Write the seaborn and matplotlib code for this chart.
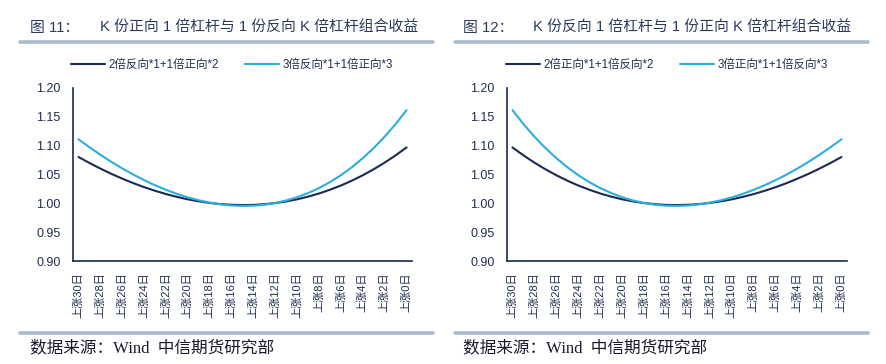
import matplotlib
matplotlib.use("Agg")
import matplotlib.pyplot as plt
import seaborn as sns
import pandas as pd
from matplotlib.lines import Line2D
from matplotlib.ticker import FixedLocator

# ---------------- data ----------------
categories = ["上涨%d日" % d for d in range(30, -1, -1)]
tick_labels = ["上涨%d日" % d for d in range(30, -1, -2)]

left_names = ["2倍反向*1+1倍正向*2", "3倍反向*1+1倍正向*3"]
left_s1 = [1.0804, 1.0700, 1.0603, 1.0512, 1.0429, 1.0351, 1.0281, 1.0218, 1.0161, 1.0112,
           1.0069, 1.0035, 1.0007, 0.9987, 0.9975, 0.9970, 0.9973, 0.9985, 1.0005, 1.0033,
           1.0070, 1.0116, 1.0171, 1.0236, 1.0309, 1.0393, 1.0487, 1.0591, 1.0706, 1.0832,
           1.0969]
left_s2 = [1.1111, 1.0973, 1.0843, 1.0720, 1.0606, 1.0500, 1.0403, 1.0314, 1.0235, 1.0164,
           1.0103, 1.0053, 1.0012, 0.9982, 0.9963, 0.9955, 0.9959, 0.9976, 1.0006, 1.0049,
           1.0106, 1.0178, 1.0265, 1.0368, 1.0488, 1.0626, 1.0783, 1.0959, 1.1156, 1.1374,
           1.1616]

right_names = ["2倍正向*1+1倍反向*2", "3倍正向*1+1倍反向*3"]
right_s1 = [1.0969, 1.0832, 1.0706, 1.0591, 1.0487, 1.0393, 1.0309, 1.0236, 1.0171, 1.0116,
            1.0070, 1.0033, 1.0005, 0.9985, 0.9973, 0.9970, 0.9975, 0.9987, 1.0007, 1.0035,
            1.0069, 1.0112, 1.0161, 1.0218, 1.0281, 1.0351, 1.0429, 1.0512, 1.0603, 1.0700,
            1.0804]
right_s2 = [1.1616, 1.1374, 1.1156, 1.0959, 1.0783, 1.0626, 1.0488, 1.0368, 1.0265, 1.0178,
            1.0106, 1.0049, 1.0006, 0.9976, 0.9959, 0.9955, 0.9963, 0.9982, 1.0012, 1.0053,
            1.0103, 1.0164, 1.0235, 1.0314, 1.0403, 1.0500, 1.0606, 1.0720, 1.0843, 1.0973,
            1.1111]

yticks = [0.90, 0.95, 1.00, 1.05, 1.10, 1.15, 1.20]

# ---------------- style ----------------
sns.set_style("white")
MIX = ["Liberation Sans", "Noto Sans CJK SC", "DejaVu Sans"]
plt.rcParams["font.family"] = MIX

DARK = "#1B2A52"
LIGHT = "#2AAEE0"
TXT = "#1F2E50"
TITLE_C = "#2A3B5C"
RULE = "#A9BBD0"

W, H = 886, 364
fig = plt.figure(figsize=(W / 100, H / 100), dpi=100)
fig.patch.set_facecolor("white")


def fx(px):
    return px / W


def fy(py):
    return 1 - py / H


def panel(x0, x1, names, s1, s2, fig_no, title, rule_x0, rule_x1, title_x0, title_x1, leg_cx):
    ax = fig.add_axes([fx(x0), fy(261), fx(x1 - x0), fy(88) - fy(261)])
    pos = list(range(len(categories)))
    df = pd.DataFrame({
        "pos": pos + pos,
        "value": s1 + s2,
        "series": [names[0]] * len(pos) + [names[1]] * len(pos),
    })
    sns.lineplot(data=df, x="pos", y="value", hue="series",
                 palette={names[0]: DARK, names[1]: LIGHT},
                 linewidth=1.5, ax=ax, legend=False, sort=False)
    ax.set_xlim(-0.5, len(categories) - 0.5)
    ax.set_ylim(0.90, 1.20)
    ax.set_yticks(yticks)
    ax.set_yticklabels(["%.2f" % v for v in yticks], color=TXT, fontsize=9, family=MIX)
    ax.set_xticks(list(range(0, len(categories), 2)))
    ax.set_xticklabels(tick_labels, rotation=90, color=TXT, fontsize=8, family=MIX)
    ax.xaxis.set_minor_locator(FixedLocator([i - 0.5 for i in range(len(categories) + 1)]))
    ax.tick_params(axis="x", which="major", length=0, pad=8)
    ax.tick_params(axis="x", which="minor", length=3.5, direction="in", color=DARK, width=1)
    ax.tick_params(axis="y", length=0, pad=9)
    ax.set_xlabel("")
    ax.set_ylabel("")
    for side in ("top", "right"):
        ax.spines[side].set_visible(False)
    for side in ("left", "bottom"):
        ax.spines[side].set_color(DARK)
        ax.spines[side].set_linewidth(1.2)
    ax.grid(False)

    # legend
    handles = [Line2D([], [], color=DARK, lw=1.5), Line2D([], [], color=LIGHT, lw=1.5)]
    fig.legend(handles, names, loc="center", bbox_to_anchor=(fx(leg_cx), fy(65)),
               ncol=2, frameon=False, handlelength=2.9,
               handletextpad=0.3, columnspacing=2.3, labelcolor=TXT,
               prop={"family": MIX, "size": 8.3})

    # title & rules
    fig.text(fx(title_x0), fy(28), fig_no, fontsize=10.7, color=TITLE_C, va="center", ha="left",
             family=MIX)
    fig.text(fx(title_x1), fy(28), title, fontsize=10.7, color=TITLE_C, va="center", ha="left",
             family=MIX)
    fig.add_artist(Line2D([fx(rule_x0), fx(rule_x1)], [fy(42), fy(42)], color=RULE, lw=2.6))
    fig.add_artist(Line2D([fx(rule_x0), fx(rule_x1)], [fy(333), fy(333)], color=RULE, lw=2.6))
    fig.text(fx(title_x0), fy(348), "数据来源：Wind  中信期货研究部", fontsize=12,
             color="#1A1A2E", va="center", ha="left",
             family=["Liberation Serif", "Noto Sans CJK SC"])
    return ax


panel(73, 412, left_names, left_s1, left_s2, "图 11：",
      "K 份正向 1 倍杠杆与 1 份反向 K 倍杠杆组合收益", 20, 433, 30, 100, 232)
panel(507, 847, right_names, right_s1, right_s2, "图 12：",
      "K 份反向 1 倍杠杆与 1 份正向 K 倍杠杆组合收益", 455, 868, 463, 533, 667)

fig.savefig("out.png", dpi=100, facecolor="white")
